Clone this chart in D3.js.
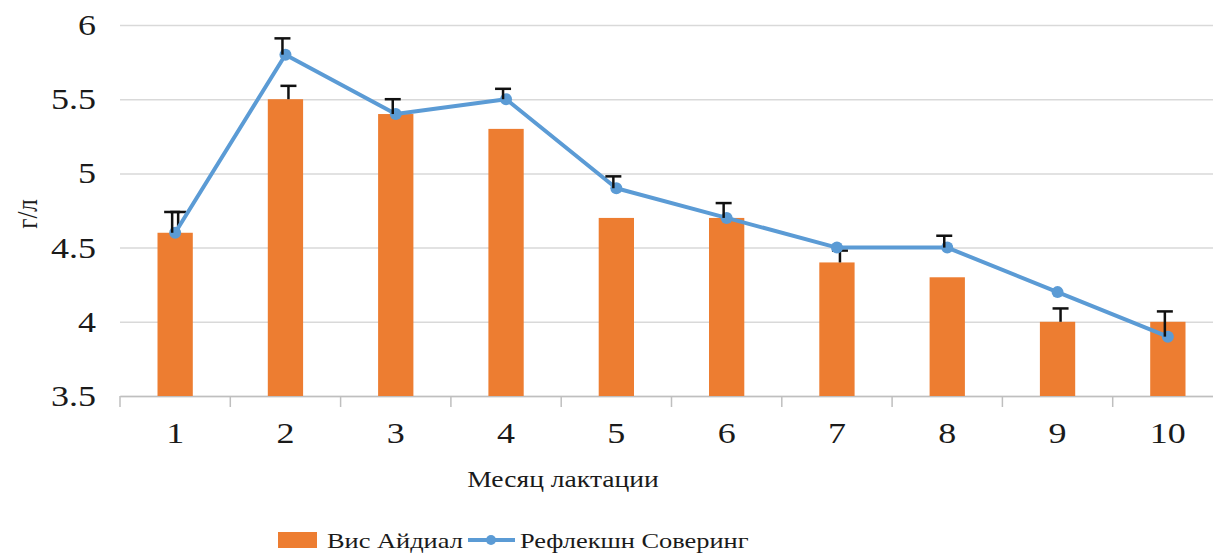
<!DOCTYPE html>
<html><head><meta charset="utf-8">
<script src="https://cdn.jsdelivr.net/npm/d3@7"></script>
<style>body{margin:0;background:#fff}svg{display:block}</style>
</head><body><svg id="c" width="1213" height="555"></svg>
<script>
const months = ["1","2","3","4","5","6","7","8","9","10"];
const barValues  = [4.6, 5.5, 5.4, 5.3, 4.7, 4.7, 4.4, 4.3, 4.0, 4.0];
const barErrors  = [0.14, 0.09, 0, 0, 0, 0, 0.08, 0, 0.09, 0];
const lineValues = [4.6, 5.8, 5.4, 5.5, 4.9, 4.7, 4.5, 4.5, 4.2, 3.9];
const lineErrors = [0.14, 0.11, 0.1, 0.07, 0.08, 0.1, 0, 0.08, 0, 0.17];
const yTicks = [3.5, 4, 4.5, 5, 5.5, 6];
const barName = "Вис Айдиал", lineName = "Рефлекшн Соверинг";
const xTitle = "Месяц лактации", yTitle = "г/л";

const ORANGE = "#ED7D31", BLUE = "#5B9BD5", GRID = "#D9D9D9";
const FONT = "'Liberation Serif', 'Times New Roman', serif";
const SX = 1.2;
const svg = d3.select("#c");
const x = d3.scaleBand().domain(months).range([120, 1223]).padding(0);
const y = d3.scaleLinear().domain([3.5, 6]).range([396, 25]);
const cx = d => x(d) + x.bandwidth() / 2;
const bw = x.bandwidth() * 0.32;

function label(g, txt, tx, ty, size, anchor, rot) {
  return g.append("text").attr("transform", `translate(${tx},${ty}) scale(${SX},1)` + (rot ? ` rotate(${rot})` : ""))
    .attr("text-anchor", anchor).attr("font-size", size).attr("font-family", FONT)
    .attr("fill", "#1a1a1a").text(txt);
}

// gridlines
const yAxis = d3.axisLeft(y).tickValues(yTicks).tickSize(-(1223 - 120)).tickFormat("");
const gy = svg.append("g").attr("transform", "translate(120,0)").call(yAxis);
gy.select(".domain").remove();
gy.selectAll(".tick line").attr("stroke", GRID).attr("stroke-width", 1.5);
yTicks.forEach(t => label(svg, String(t), 96, y(t) + 10, 30, "end"));

// x axis
const xAxis = d3.axisBottom(x).tickSize(0).tickFormat("");
const gx = svg.append("g").attr("transform", "translate(0,396)").call(xAxis);
gx.select(".domain").attr("stroke", "#BFBFBF").attr("stroke-width", 1.5);
const bounds = months.map(m => x(m));
svg.append("g").selectAll("line").data(bounds).join("line")
  .attr("x1", d => d).attr("x2", d => d).attr("y1", 396).attr("y2", 407)
  .attr("stroke", "#BFBFBF").attr("stroke-width", 1.5);
months.forEach(m => label(svg, m, cx(m), 443, 30, "middle"));

// bars
svg.append("g").selectAll("rect").data(months).join("rect")
  .attr("x", (d) => cx(d) - bw / 2).attr("width", bw)
  .attr("y", (d, i) => y(barValues[i])).attr("height", (d, i) => y(3.5) - y(barValues[i]))
  .attr("fill", ORANGE);

function errBars(vals, errs, dx) {
  const g = svg.append("g").attr("stroke", "#111").attr("stroke-width", 2.5);
  months.forEach((m, i) => {
    if (!errs[i]) return;
    const xx = cx(m) + dx;
    g.append("line").attr("x1", xx).attr("x2", xx).attr("y1", y(vals[i])).attr("y2", y(vals[i] + errs[i]));
    g.append("line").attr("x1", xx - 8).attr("x2", xx + 8).attr("y1", y(vals[i] + errs[i])).attr("y2", y(vals[i] + errs[i]));
  });
}
errBars(barValues, barErrors, 3);

// line
const line = d3.line().x((d, i) => cx(months[i])).y(d => y(d));
svg.append("path").datum(lineValues).attr("d", line).attr("fill", "none")
  .attr("stroke", BLUE).attr("stroke-width", 4).attr("stroke-linejoin", "round");
svg.append("g").selectAll("circle").data(lineValues).join("circle")
  .attr("cx", (d, i) => cx(months[i])).attr("cy", d => y(d)).attr("r", 6).attr("fill", BLUE);
errBars(lineValues, lineErrors, -3);

// titles
label(svg, xTitle, 563, 487, 23, "middle");
label(svg, yTitle, 37, 214, 25, "middle", -90);

// legend
svg.append("rect").attr("x", 278).attr("y", 532).attr("width", 39).attr("height", 16).attr("fill", ORANGE);
label(svg, barName, 327, 548, 22, "start");
svg.append("line").attr("x1", 468).attr("x2", 515).attr("y1", 540).attr("y2", 540).attr("stroke", BLUE).attr("stroke-width", 4);
svg.append("circle").attr("cx", 491).attr("cy", 540).attr("r", 5).attr("fill", BLUE);
label(svg, lineName, 520, 548, 22, "start");
</script></body></html>
